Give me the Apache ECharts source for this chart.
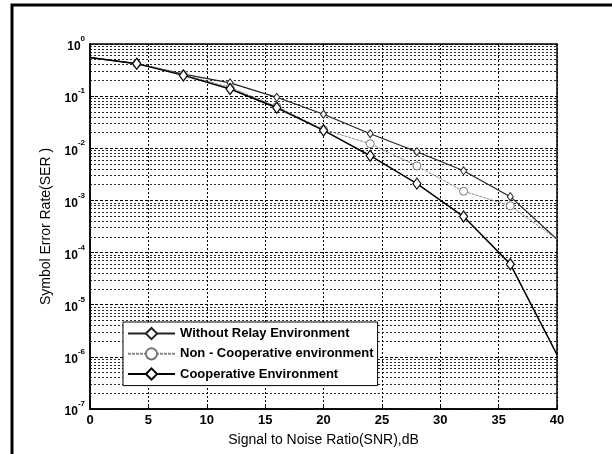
<!DOCTYPE html>
<html>
<head>
<meta charset="utf-8">
<script src="https://cdn.jsdelivr.net/npm/echarts@6/dist/echarts.min.js"></script>
<style>
html,body{margin:0;padding:0;background:#fff;}
#chart{width:612px;height:454px;}
</style>
</head>
<body>
<div id="chart"></div>
<script>
var snr = [0, 4, 8, 12, 16, 20, 24, 28, 32, 36, 40];
var serWithoutRelay = [0.55, 0.42, 0.265, 0.18, 0.095, 0.045, 0.019, 0.0086, 0.0037, 0.00118, 0.00018];
var serNonCoop = [0.55, 0.42, 0.26, 0.147, 0.063, 0.023, 0.0122, 0.0046, 0.0015, 0.00079, 0.00018];
var serCoop = [0.55, 0.42, 0.25, 0.137, 0.06, 0.022, 0.0072, 0.0021, 0.00049, 0.00006, 0.0000011];
var seriesNames = ['Without Relay Environment', 'Non - Cooperative environment', 'Cooperative Environment'];
var xTicks = [0, 5, 10, 15, 20, 25, 30, 35, 40];

var FONT = '"Liberation Sans", Arial, sans-serif';

function pts(arr) {
  return snr.map(function (x, i) {
    var item = { value: [x, arr[i]] };
    if (i === 0 || i === snr.length - 1) item.symbol = 'none';
    return item;
  });
}

// minor log grid positions (2..9 x 10^k), drawn across the x range
var minorLines = [];
for (var k = -7; k <= -1; k++) {
  for (var m = 2; m <= 9; m++) {
    var v = m * Math.pow(10, k);
    minorLines.push({ coords: [[0, v], [40, v]] });
  }
}

var chart = echarts.init(document.getElementById('chart'), null, { renderer: 'canvas' });
chart.setOption({
  backgroundColor: '#fff',
  animation: false,
  graphic: [{
    type: 'rect',
    shape: { x: 12, y: 5, width: 700, height: 600 },
    style: { fill: 'none', stroke: '#000', lineWidth: 3 },
    silent: true
  }],
  grid: {
    left: 90, right: 55, top: 44, bottom: 45,
    show: true, borderColor: '#000', borderWidth: 1.5, backgroundColor: 'transparent'
  },
  legend: {
    data: seriesNames,
    orient: 'vertical',
    left: 123, top: 322,
    padding: [5, 4, 5, 4],
    itemWidth: 47, itemHeight: 14, itemGap: 7,
    backgroundColor: '#fff',
    borderColor: '#000', borderWidth: 1,
    borderRadius: 0,
    textStyle: { fontFamily: FONT, fontSize: 13, fontWeight: 'bold', color: '#000' }
  },
  xAxis: {
    type: 'value', min: 0, max: 40, interval: 5,
    name: 'Signal to Noise Ratio(SNR),dB',
    nameLocation: 'middle', nameGap: 24,
    nameTextStyle: { fontFamily: FONT, fontSize: 14, color: '#000' },
    axisLine: { show: true, lineStyle: { color: '#000', width: 1.5 } },
    axisTick: { show: true, inside: true, length: 4, lineStyle: { color: '#000' } },
    axisLabel: {
      fontFamily: FONT, fontSize: 13, fontWeight: 'bold', color: '#000', margin: 5,
      formatter: function (v) { return xTicks.indexOf(v) >= 0 ? String(v) : ''; }
    },
    splitLine: { show: true, lineStyle: { color: '#000', type: [2, 2], width: 1 } }
  },
  yAxis: {
    type: 'log', logBase: 10, min: 1e-7, max: 1,
    name: 'Symbol Error Rate(SER )',
    nameLocation: 'middle', nameGap: 36,
    nameTextStyle: { fontFamily: FONT, fontSize: 14, color: '#000' },
    axisLine: { show: true, lineStyle: { color: '#000', width: 1.5 } },
    axisTick: { show: true, inside: true, length: 4, lineStyle: { color: '#000' } },
    axisLabel: {
      margin: 5,
      formatter: function (v) {
        var e = Math.round(Math.log10(v));
        return '{b|10}{s|' + e + '}';
      },
      rich: {
        b: { fontFamily: FONT, fontSize: 12, fontWeight: 'bold', color: '#000', lineHeight: 18, verticalAlign: 'bottom' },
        s: { fontFamily: FONT, fontSize: 8, fontWeight: 'bold', color: '#000', lineHeight: 18, verticalAlign: 'top' }
      }
    },
    splitLine: { show: true, lineStyle: { color: '#000', type: [3, 2], width: 1.2 } }
  },
  series: [
    {
      name: '__grid', type: 'lines', coordinateSystem: 'cartesian2d',
      data: minorLines, silent: true, z: 1,
      lineStyle: { color: '#111', type: [2, 2], width: 0.9, opacity: 1 }
    },
    {
      name: seriesNames[0], type: 'line', data: pts(serWithoutRelay),
      symbol: 'diamond', symbolSize: [6, 8], showAllSymbol: true,
      lineStyle: { color: '#222', width: 1.2 },
      itemStyle: { color: '#fff', borderColor: '#222', borderWidth: 1 },
      z: 3
    },
    {
      name: seriesNames[1], type: 'line', data: pts(serNonCoop),
      symbol: 'circle', symbolSize: 8, showAllSymbol: true,
      lineStyle: { color: '#888', width: 1, type: [3, 1] },
      itemStyle: { color: '#fff', borderColor: '#777', borderWidth: 1 },
      z: 3
    },
    {
      name: seriesNames[2], type: 'line', data: pts(serCoop),
      symbol: 'diamond', symbolSize: [8, 11], showAllSymbol: true,
      lineStyle: { color: '#000', width: 1.5 },
      itemStyle: { color: '#fff', borderColor: '#000', borderWidth: 1.2 },
      z: 4
    }
  ]
});
</script>
</body>
</html>
